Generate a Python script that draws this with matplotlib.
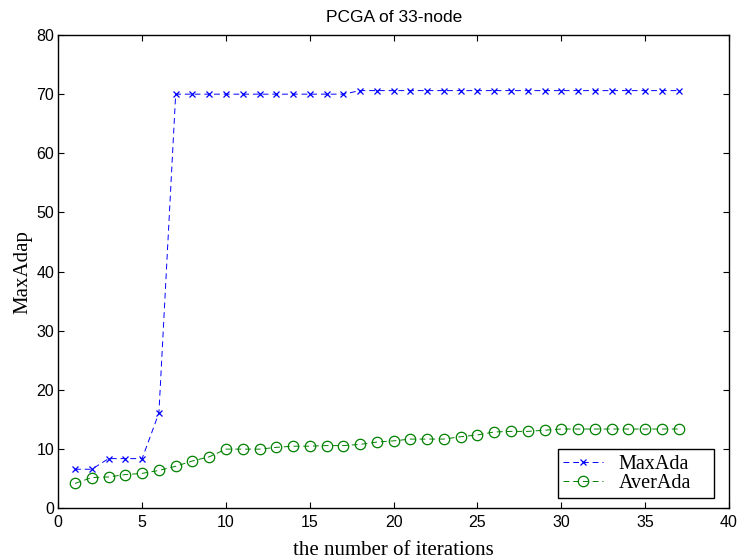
import matplotlib
matplotlib.use("Agg")
import matplotlib.pyplot as plt

iterations = list(range(1, 38))
max_ada = [6.6, 6.6, 8.4, 8.4, 8.4, 16.1, 70.0, 70.0, 70.0, 70.0,
           70.0, 70.0, 70.0, 70.0, 70.0, 70.0, 70.0, 70.6, 70.6, 70.6,
           70.6, 70.6, 70.6, 70.6, 70.6, 70.6, 70.6, 70.6, 70.6, 70.6,
           70.6, 70.6, 70.6, 70.6, 70.6, 70.6, 70.6]
aver_ada = [4.2, 5.2, 5.3, 5.7, 5.9, 6.4, 7.1, 8.0, 8.7, 10.0,
            10.0, 10.0, 10.3, 10.5, 10.5, 10.6, 10.6, 10.8, 11.2, 11.4,
            11.7, 11.7, 11.7, 12.1, 12.4, 12.9, 13.0, 13.0, 13.2, 13.4,
            13.4, 13.4, 13.4, 13.4, 13.4, 13.4, 13.4]
series_names = ["MaxAda", "AverAda"]
title = "PCGA of 33-node"
xlabel = "the number of iterations"
ylabel = "MaxAdap"

fig = plt.figure(figsize=(7.38, 5.59), dpi=100)
ax = fig.add_axes([0.079, 0.0907, 0.9088, 0.8467])

ax.plot(iterations, max_ada, color=(0, 0, 1), linestyle=(0, (6, 4)), linewidth=0.7,
        marker="x", markersize=4, markeredgewidth=0.9, label=series_names[0])
ax.plot(iterations, aver_ada, color=(0, 0.5, 0), linestyle=(0, (6, 4)), linewidth=0.7,
        marker="o", markersize=7.5, markerfacecolor="none", markeredgewidth=0.9,
        label=series_names[1])

ax.set_xlim(0, 40)
ax.set_ylim(0, 80)
ax.set_xticks(range(0, 41, 5))
ax.set_yticks(range(0, 81, 10))
ax.tick_params(direction="in", length=4, width=0.8, top=True, right=True,
               labelsize=11.5, pad=3)
ax.tick_params(axis="x", pad=5)
for lbl in ax.get_xticklabels() + ax.get_yticklabels():
    lbl.set_fontfamily("Liberation Sans")
for s in ax.spines.values():
    s.set_linewidth(1.0)

ax.set_title(title, fontfamily="Liberation Sans", fontsize=12.5, pad=9)
ax.set_xlabel(xlabel, fontfamily="Liberation Serif", fontsize=15, labelpad=8)
ax.set_ylabel(ylabel, fontfamily="Liberation Serif", fontsize=15, labelpad=3)

leg = ax.legend(loc="lower left", bbox_to_anchor=(0.745, 0.0224, 0.2327, 0.1),
                mode="expand",
                prop={"family": "Liberation Serif", "size": 14.5},
                frameon=True, fancybox=False, edgecolor="black", framealpha=1,
                borderpad=0.25, labelspacing=0.0, handlelength=2.0,
                handletextpad=0.75, borderaxespad=0.0)
leg.get_frame().set_linewidth(1.0)

fig.savefig("out.png", dpi=100)
